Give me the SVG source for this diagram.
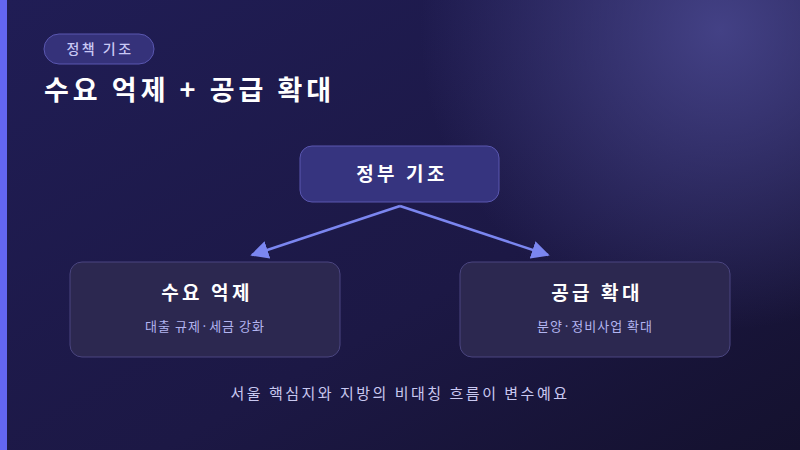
<svg xmlns="http://www.w3.org/2000/svg" width="800" height="450" viewBox="0 0 800 450">
<defs>
<linearGradient id="bg" x1="0" y1="0" x2="1" y2="1"><stop offset="0" stop-color="#201d55"/><stop offset="0.6" stop-color="#1c1845"/><stop offset="1" stop-color="#14112e"/></linearGradient>
<radialGradient id="glow" cx="720" cy="30" r="300" gradientUnits="userSpaceOnUse"><stop offset="0" stop-color="#4a4890" stop-opacity="0.85"/><stop offset="1" stop-color="#4a4890" stop-opacity="0"/></radialGradient>
<marker id="ah" viewBox="0 0 10 10" refX="9" refY="5" markerWidth="18" markerHeight="18" markerUnits="userSpaceOnUse" orient="auto"><path d="M0,0 L10,5 L0,10 z" fill="#7b86f0"/></marker>
<style>
text{font-family:"Noto Sans CJK KR","Noto Sans",sans-serif;text-anchor:middle}
.box{fill:#2c2850;stroke:#4a4580;stroke-width:1}
.t{fill:#fff;font-size:19px;font-weight:700;letter-spacing:3.5px}
.s{fill:#b3b5f0;font-size:13px;letter-spacing:1px}
.c{stroke:#7b86f0;stroke-width:2.5;fill:none;marker-end:url(#ah)}
</style>
</defs>
<rect width="800" height="450" fill="url(#bg)"/>
<rect width="800" height="450" fill="url(#glow)"/>
<rect width="7" height="450" fill="#6366f1"/>
<g id="badge"><rect x="44" y="34" width="110" height="30" rx="15" fill="#35327a" stroke="#5a57b0"/><text x="100" y="54" font-size="14" fill="#c9c8f5" font-weight="500" letter-spacing="2.5">정책 기조</text></g>
<text x="44" y="100" style="text-anchor:start" font-size="27" font-weight="700" fill="#fff" letter-spacing="4">수요 억제 + 공급 확대</text>
<g id="connectors"><path class="c" d="M400,206 L252,255"/><path class="c" d="M400,206 L548,255"/></g>
<g id="n0"><rect x="300" y="146" width="199" height="56" rx="12" fill="#36347f" stroke="#5a57b0"/><text class="t" x="402" y="181">정부 기조</text></g>
<g id="n1"><rect class="box" x="70" y="262" width="270" height="95" rx="12"/><text class="t" x="207" y="300">수요 억제</text><text class="s" x="205" y="331">대출 규제·세금 강화</text></g>
<g id="n2"><rect class="box" x="460" y="262" width="270" height="95" rx="12"/><text class="t" x="597" y="300">공급 확대</text><text class="s" x="595" y="331">분양·정비사업 확대</text></g>
<text x="400" y="399" font-size="15" fill="#c9c8f0" letter-spacing="2.5">서울 핵심지와 지방의 비대칭 흐름이 변수예요</text>
</svg>
